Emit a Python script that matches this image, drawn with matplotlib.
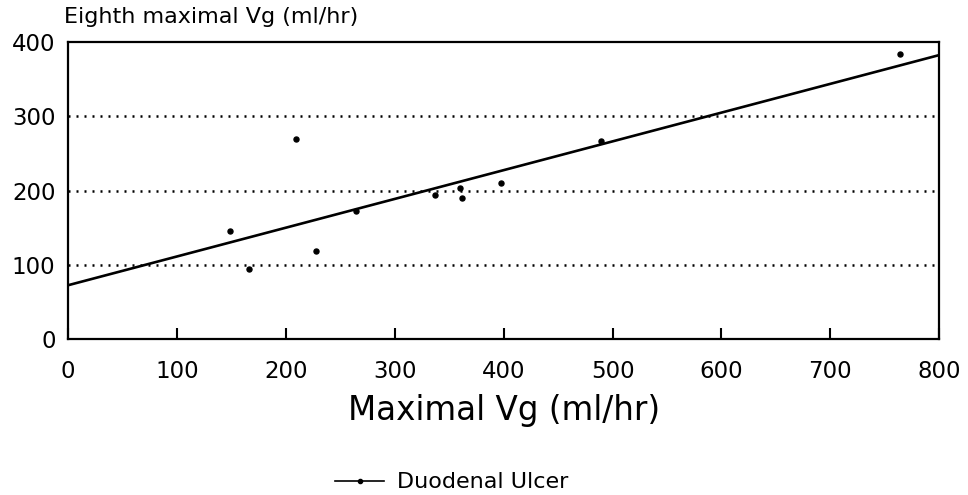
import matplotlib.pyplot as plt

# values
maximal_vg = [149, 166, 209, 228, 264, 337, 360, 362, 398, 489, 764]
eighth_vg = [146, 95, 269, 119, 172, 194, 203, 190, 210, 267, 384]

# regression line as drawn in the original
fit_intercept = 72.5
fit_slope = 0.3875
fit_x = [0, 800]

x_ticks = [0, 100, 200, 300, 400, 500, 600, 700, 800]
y_ticks = [0, 100, 200, 300, 400]
grid_levels = [100, 200, 300]

plt.rcParams['font.family'] = ['DejaVu Sans']

fig = plt.figure(figsize=(9.68, 4.95), dpi=100)
ax = fig.add_axes([0.0703, 0.315, 0.9, 0.6])

# dotted horizontal guides
for lvl in grid_levels:
    ax.axhline(lvl, color='black', lw=1.8, dashes=(0.8, 2.4), zorder=1)

fit_y = [fit_intercept + fit_slope * v for v in fit_x]
ax.plot(fit_x, fit_y, color='black', lw=1.9, zorder=2)
ax.plot(maximal_vg, eighth_vg, 'o', color='black', ms=3.6, zorder=3)

ax.set_xlim(0, 800)
ax.set_ylim(0, 400)
ax.set_xticks(x_ticks)
ax.set_yticks(y_ticks)

for s in ax.spines.values():
    s.set_linewidth(1.6)

ax.tick_params(axis='x', direction='in', length=8, width=1.5, pad=15, labelsize=16.5)
ax.tick_params(axis='y', direction='out', length=0, pad=9, labelsize=16.5)

ax.set_xlabel('Maximal Vg (ml/hr)', fontsize=23.5, labelpad=8)
fig.text(0.066, 0.985, 'Eighth maximal Vg (ml/hr)', fontsize=16, va='top', ha='left')

# legend entry drawn below the chart
ax.plot([], [], '-', color='black', marker='o', ms=3, lw=1.2, label='Duodenal Ulcer')
leg = fig.legend(loc='lower center', bbox_to_anchor=(0.467, -0.035), frameon=False,
                 fontsize=16, handlelength=2.2, handletextpad=0.6)

fig.savefig('out.png', dpi=100)
